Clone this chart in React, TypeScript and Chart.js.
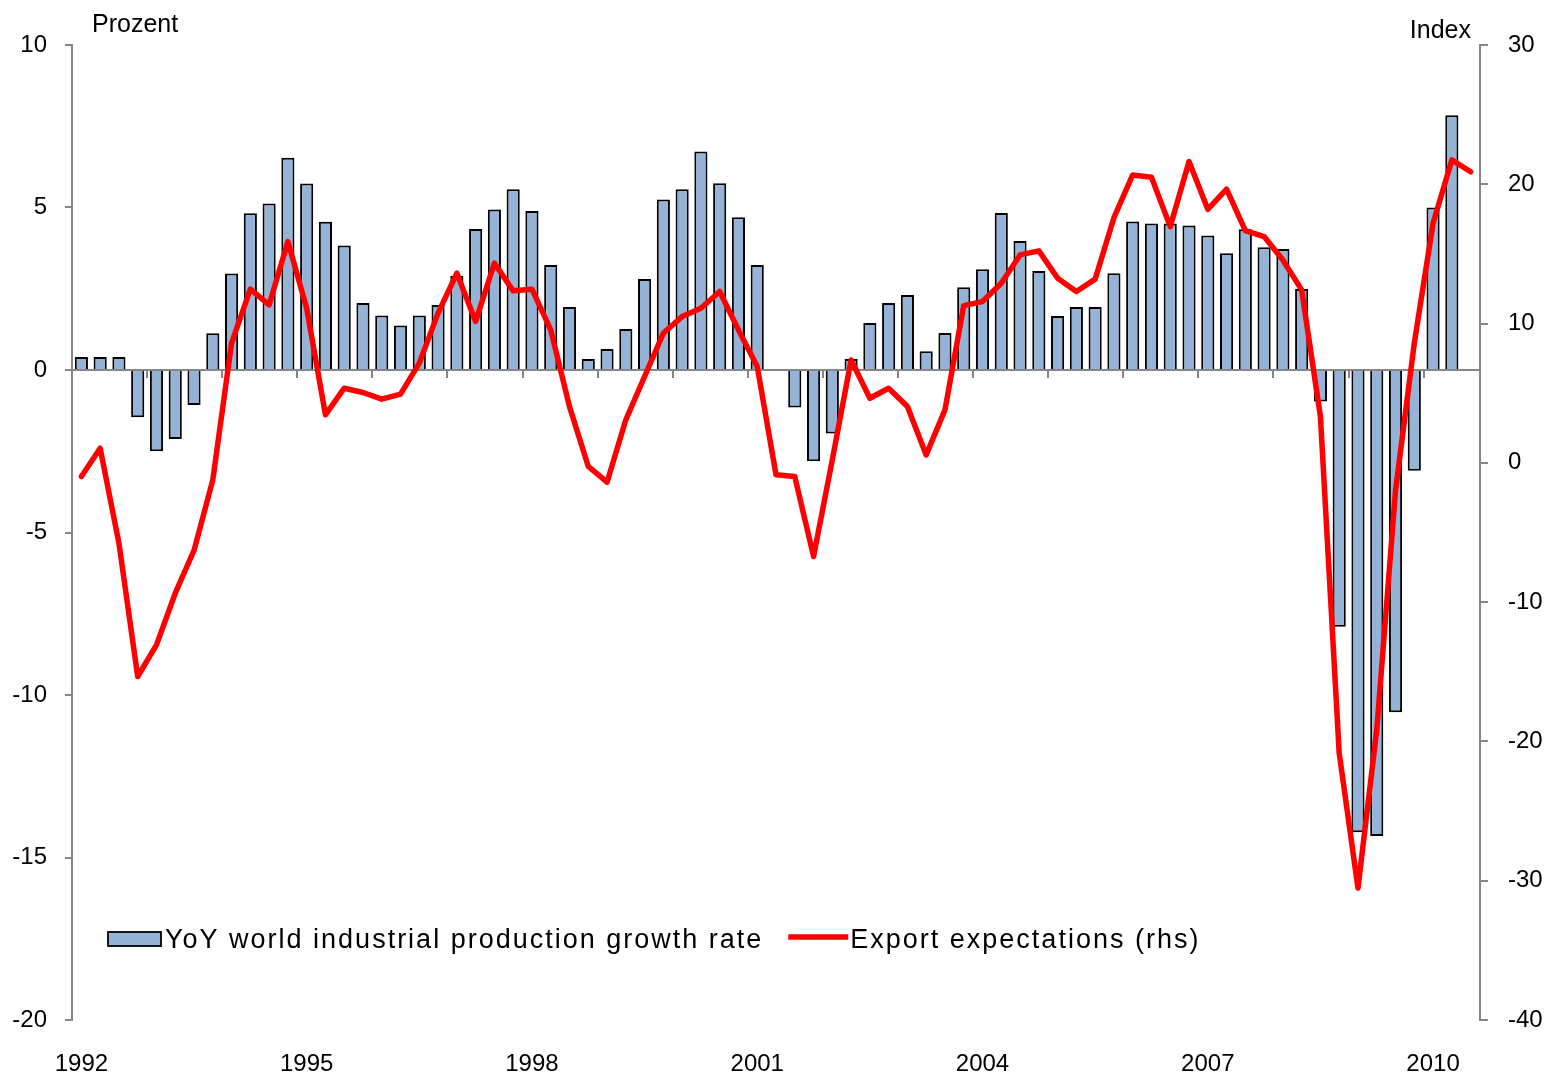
import React, { useEffect, useRef } from 'react';
import { Chart, registerables } from 'chart.js';

Chart.register(...registerables);

const FONT = "'Liberation Sans', Arial, sans-serif";
const GRAY = '#868686';

// Quarterly categories 1992 Q1 .. 2010 Q3
const categories: string[] = [];
for (let y = 1992; y <= 2010; y++) {
  for (let q = 1; q <= 4; q++) categories.push(`${y} Q${q}`);
}
categories.splice(75);

const yearTickLabels = ['1992', '1995', '1998', '2001', '2004', '2007', '2010'];

const leftAxisTitle = 'Prozent';
const rightAxisTitle = 'Index';

const barLabel = 'YoY world industrial production growth rate';
const lineLabel = 'Export expectations (rhs)';

// YoY world industrial production growth rate (left axis, %)
const productionGrowth: (number | null)[] = [
  0.4, 0.4, 0.4, -1.45, -2.5, -2.12, -1.08, 1.13,
  2.97, 4.82, 5.12, 6.53, 5.74, 4.56, 3.83, 2.06,
  1.68, 1.37, 1.68, 2.0, 2.9, 4.34, 4.94, 5.56,
  4.89, 3.23, 1.94, 0.34, 0.65, 1.26, 2.8, 5.25,
  5.56, 6.72, 5.75, 4.7, 3.23, null, -1.15, -2.81,
  -1.95, 0.34, 1.45, 2.06, 2.31, 0.58, 1.14, 2.55,
  3.1, 4.83, 3.97, 3.05, 1.66, 1.94, 1.94, 2.98,
  4.57, 4.51, 4.51, 4.45, 4.14, 3.59, 4.33, 3.78,
  3.72, 2.49, -0.97, -7.9, -14.22, -14.34, -10.53, -3.1,
  5.0, 7.84, null,
];

// Export expectations (right axis, index)
const exportExpectations: number[] = [
  -0.98, 1.05, -5.77, -15.34, -13.07, -9.36, -6.29, -1.22,
  8.59, 12.47, 11.34, 15.89, 11.1, 3.45, 5.36, 5.05,
  4.57, 4.93, 7.16, 10.75, 13.62, 10.15, 14.34, 12.35,
  12.47, 9.55, 4.04, -0.26, -1.39, 3.09, 6.2, 9.31,
  10.5, 11.1, 12.3, 9.55, 6.92, -0.86, -0.98, -6.72,
  0.22, 7.39, 4.64, 5.36, 4.04, 0.57, 3.8, 11.29,
  11.58, 12.9, 14.93, 15.22, 13.26, 12.3, 13.19, 17.6,
  20.67, 20.5, 16.96, 21.63, 18.2, 19.65, 16.68, 16.25,
  14.57, 12.42, 3.33, -20.84, -30.53, -19.17, -2.0, 8.59,
  17.2, 21.75, 20.9,
];

const overlayPlugin = {
  id: 'overlay',
  afterDraw(chart: any) {
    const { ctx, chartArea } = chart;
    ctx.save();
    // axis titles
    ctx.fillStyle = '#000';
    ctx.font = `25px ${FONT}`;
    ctx.textBaseline = 'alphabetic';
    ctx.textAlign = 'left';
    ctx.fillText(leftAxisTitle, chartArea.left + 20, chartArea.top - 13);
    ctx.textAlign = 'right';
    ctx.fillText(rightAxisTitle, chartArea.right - 9, chartArea.top - 7);

    // legend inside the plot area
    const bars = chart.data.datasets.find((d: any) => d.type === 'bar');
    const line = chart.data.datasets.find((d: any) => d.type === 'line');
    ctx.font = `27px ${FONT}`;
    try { (ctx as any).letterSpacing = '2px'; } catch (e) { /* ignore */ }
    ctx.textAlign = 'left';
    const base = chartArea.bottom - 72;
    const mid = chartArea.bottom - 81;
    let x = chartArea.left + 36;
    ctx.fillStyle = bars.backgroundColor;
    ctx.fillRect(x, mid - 7, 53, 14);
    ctx.strokeStyle = '#000';
    ctx.lineWidth = 1.8;
    ctx.strokeRect(x, mid - 7, 53, 14);
    x += 57;
    ctx.fillStyle = '#000';
    ctx.fillText(bars.label, x, base);
    x += ctx.measureText(bars.label).width + 25;
    ctx.strokeStyle = line.borderColor;
    ctx.lineWidth = 5.5;
    ctx.beginPath();
    ctx.moveTo(x, mid - 2);
    ctx.lineTo(x + 60, mid - 2);
    ctx.stroke();
    x += 62;
    ctx.fillText(line.label, x, base);
    ctx.restore();
  },
};

export default function App() {
  const canvasRef = useRef<HTMLCanvasElement | null>(null);

  useEffect(() => {
    if (!canvasRef.current) return;
    Chart.defaults.font.family = FONT;
    const chart = new Chart(canvasRef.current, {
      type: 'bar',
      data: {
        labels: categories,
        datasets: [
          {
            type: 'bar' as const,
            label: barLabel,
            data: productionGrowth,
            yAxisID: 'y',
            xAxisID: 'x',
            backgroundColor: '#95B3D7',
            borderColor: '#000000',
            borderWidth: 2,
            barPercentage: 0.7,
            categoryPercentage: 1,
            order: 1,
          } as any,
          {
            type: 'line' as const,
            label: lineLabel,
            data: exportExpectations,
            yAxisID: 'y1',
            xAxisID: 'x',
            borderColor: '#FF0000',
            backgroundColor: '#FF0000',
            borderWidth: 5.5,
            pointRadius: 0,
            tension: 0,
            borderJoinStyle: 'round',
            borderCapStyle: 'round',
            order: 0,
          } as any,
        ],
      },
      options: {
        responsive: true,
        maintainAspectRatio: false,
        animation: false,
        events: [],
        layout: { padding: { top: 37, left: 0, right: 0, bottom: 0 } },
        plugins: {
          legend: { display: false },
          tooltip: { enabled: false },
          title: { display: false },
        },
        scales: {
          x: {
            type: 'category',
            position: 'bottom',
            offset: true,
            grid: { display: false, drawTicks: false, offset: true },
            border: { display: false },
            ticks: {
              autoSkip: false,
              maxRotation: 0,
              minRotation: 0,
              padding: 30,
              color: '#000',
              font: { size: 24, family: FONT },
              callback: (_v: any, i: number) => (i % 12 === 0 ? yearTickLabels[i / 12] : ''),
            },
            afterFit: (s: any) => { s.height = 53; },
          },
          x0: {
            type: 'category',
            axis: 'x',
            position: { y: 0 },
            offset: true,
            grid: {
              display: true,
              drawOnChartArea: false,
              drawTicks: true,
              tickLength: 7,
              offset: true,
              lineWidth: 2,
              tickColor: (c: any) => (typeof c.index === 'number' && c.index % 4 === 0 ? GRAY : 'rgba(0,0,0,0)'),
            },
            border: { display: true, color: GRAY, width: 2 },
            ticks: { display: false },
          },
          y: {
            type: 'linear',
            position: 'left',
            min: -20,
            max: 10,
            ticks: { stepSize: 5, padding: 18, color: '#000', font: { size: 24, family: FONT } },
            grid: { drawOnChartArea: false, tickLength: 7, tickColor: GRAY, lineWidth: 2 },
            border: { color: GRAY, width: 2 },
            afterFit: (s: any) => { s.width = 64; },
          },
          y1: {
            type: 'linear',
            position: 'right',
            min: -40,
            max: 30,
            ticks: { stepSize: 10, padding: 20, color: '#000', font: { size: 24, family: FONT } },
            grid: { drawOnChartArea: false, tickLength: 8, tickColor: GRAY, lineWidth: 2 },
            border: { color: GRAY, width: 2 },
            afterFit: (s: any) => { s.width = 68; },
          },
        } as any,
      },
      plugins: [overlayPlugin],
    });
    return () => chart.destroy();
  }, []);

  return (
    <div style={{ position: 'relative', width: 1540, height: 1065 }}>
      <canvas ref={canvasRef} style={{ display: 'block' }} />
    </div>
  );
}
